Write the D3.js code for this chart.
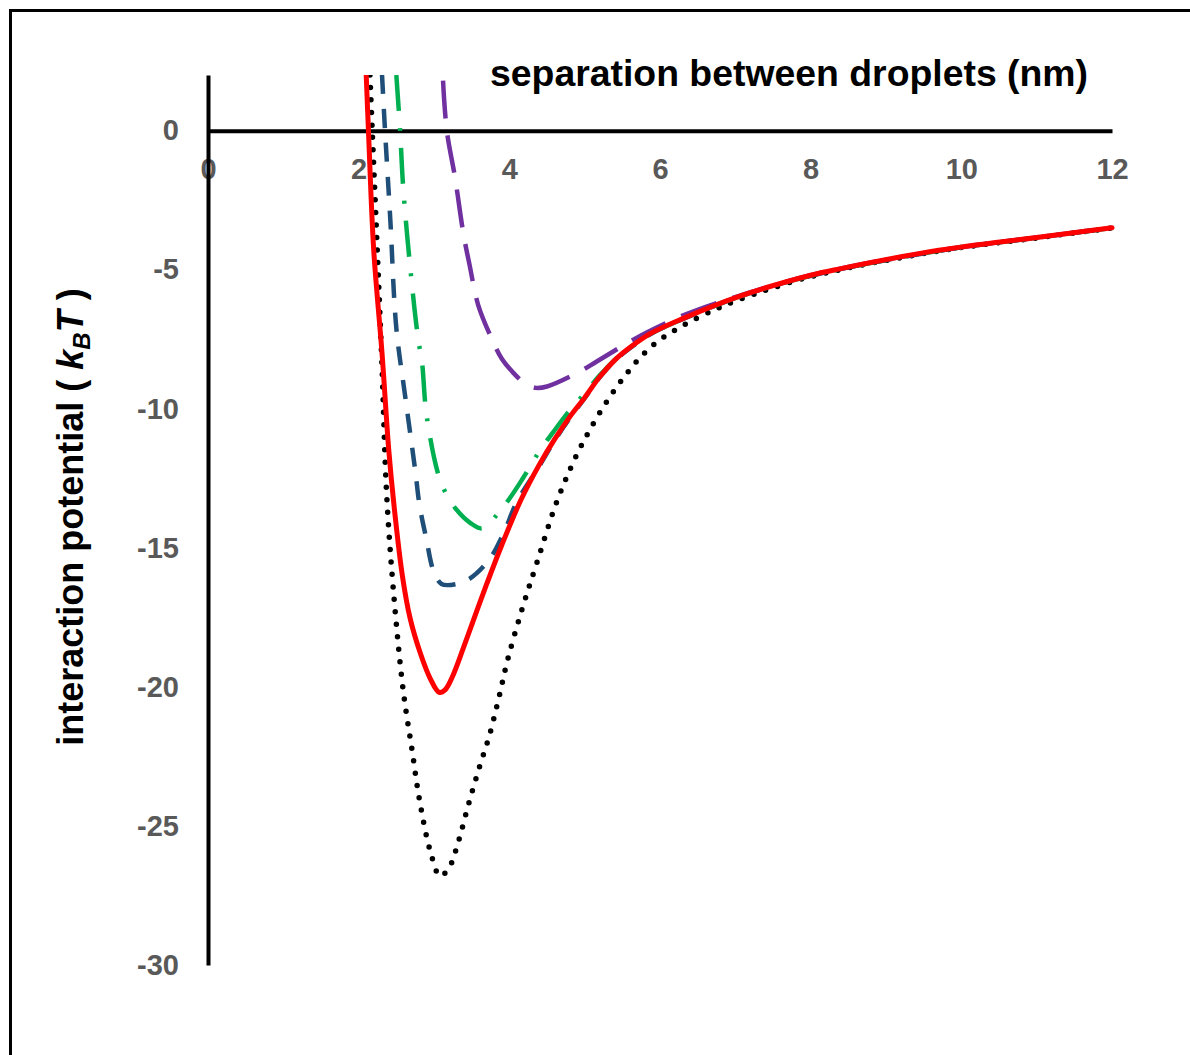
<!DOCTYPE html>
<html>
<head>
<meta charset="utf-8">
<script src="https://cdn.jsdelivr.net/npm/d3@7"></script>
<style>
  html, body { margin: 0; padding: 0; background: #fff; }
  svg { display: block; }
  text { font-family: "Liberation Sans", Arial, sans-serif; font-weight: bold; }
</style>
</head>
<body>
<svg id="chart" width="1190" height="1055"></svg>
<script>
// ---- Data ----
const xTicks = [0, 2, 4, 6, 8, 10, 12];
const yTicks = [0, -5, -10, -15, -20, -25, -30];
const xTitle = "separation between droplets (nm)";

// black dotted
const seriesBlack = [[2.15,2.0],[2.18,0],[2.25,-4.5],[2.31,-8.5],[2.37,-13.0],[2.46,-16.5],[2.59,-20.1],[2.71,-22.3],[2.81,-24.1],[2.95,-25.9],[3.08,-26.8],[3.2,-26.5],[3.32,-25.6],[3.45,-24.3],[3.59,-23.0],[3.74,-21.7],[3.86,-20.4],[3.98,-19.0],[4.17,-17.2],[4.37,-15.5],[4.65,-13.2],[4.98,-11.2],[5.43,-9.2],[5.87,-7.8],[6.31,-7.0],[6.76,-6.4],[7.06,-6.07],[8.0,-5.25],[9.7,-4.33],[11.0,-3.86],[12.0,-3.5]];
// red solid
const seriesRed = [[2.10,2.0],[2.13,0],[2.20,-4.3],[2.31,-8.0],[2.40,-11.5],[2.47,-13.5],[2.58,-16.0],[2.68,-17.5],[2.82,-18.8],[2.95,-19.7],[3.07,-20.2],[3.15,-20.1],[3.25,-19.6],[3.39,-18.6],[3.55,-17.4],[3.7,-16.3],[3.9,-14.9],[4.15,-13.3],[4.4,-12.0],[4.6,-11.1],[4.8,-10.3],[5.0,-9.6],[5.2,-8.85],[5.4,-8.25],[5.6,-7.8],[5.87,-7.3],[6.3,-6.76],[7.06,-5.95],[8.0,-5.2],[8.4,-4.96],[9.7,-4.3],[11.0,-3.84],[12.0,-3.49]];
// dark blue dashed
const seriesBlue = [[2.31,2.0],[2.35,0],[2.42,-3.2],[2.5,-7.1],[2.62,-9.6],[2.75,-12.2],[2.81,-13.5],[2.9,-14.7],[2.99,-15.8],[3.1,-16.3],[3.3,-16.3],[3.48,-16.1],[3.74,-15.4],[3.92,-14.5],[4.1,-13.35],[4.4,-12.05],[4.6,-11.15],[4.8,-10.35],[5.0,-9.62],[5.2,-8.87],[5.4,-8.27],[5.6,-7.82],[5.87,-7.32],[6.3,-6.78],[7.06,-5.96],[8.0,-5.22],[9.7,-4.32],[11.0,-3.85],[12.0,-3.5]];
// green dash-dot
const seriesGreen = [[2.5,2.0],[2.55,0],[2.59,-2.0],[2.68,-4.8],[2.79,-7.5],[2.84,-8.3],[2.9,-10.2],[3.05,-12.3],[3.15,-13.0],[3.29,-13.6],[3.48,-14.1],[3.64,-14.3],[3.84,-13.8],[4.01,-13.2],[4.18,-12.5],[4.43,-11.4],[4.58,-10.85],[4.76,-10.2],[5.0,-9.45],[5.2,-8.8],[5.4,-8.24],[5.6,-7.8],[5.87,-7.31],[6.3,-6.78],[7.06,-5.96],[8.0,-5.22],[9.7,-4.32],[11.0,-3.85],[12.0,-3.5]];
// purple long dash
const seriesPurple = [[3.12,1.8],[3.17,0],[3.28,-1.7],[3.39,-3.7],[3.47,-4.8],[3.59,-6.3],[3.77,-7.5],[3.9,-8.2],[4.05,-8.7],[4.21,-9.1],[4.35,-9.25],[4.5,-9.2],[4.91,-8.7],[5.16,-8.3],[5.56,-7.65],[5.83,-7.25],[6.24,-6.72],[6.49,-6.45],[7.06,-5.93],[8.0,-5.2],[9.7,-4.31],[11.0,-3.84],[12.0,-3.49]];

// ---- Chart ----
const svg = d3.select("#chart");

// outer frame (extends past the right and bottom edges)
svg.append("rect")
  .attr("x", 10.5).attr("y", 10.5)
  .attr("width", 1300).attr("height", 1200)
  .attr("fill", "none").attr("stroke", "#000").attr("stroke-width", 3);

const x = d3.scaleLinear().domain([0, 12]).range([208, 1112]);
const y = d3.scaleLinear().domain([-30, 2]).range([965, 75]);

svg.append("defs").append("clipPath").attr("id", "plotclip")
  .append("rect").attr("x", 208).attr("y", 75).attr("width", 910).attr("height", 890);

// axes
const xAxis = svg.append("g")
  .attr("transform", `translate(0,${y(0)})`)
  .call(d3.axisBottom(x).tickValues(xTicks).tickFormat(d => String(d)).tickSize(0).tickPadding(28));
const yAxis = svg.append("g")
  .attr("transform", `translate(${x(0)},0)`)
  .call(d3.axisLeft(y).tickValues(yTicks).tickFormat(d => String(d)).tickSize(0).tickPadding(29));

[xAxis, yAxis].forEach(g => {
  g.select(".domain").attr("stroke", "#000").attr("stroke-width", 4);
  g.selectAll("text").attr("fill", "#595959").style("font-size", "29px")
    .style("font-family", "'Liberation Sans', Arial, sans-serif").style("font-weight", "bold");
});

// lines
const line = d3.line().x(d => x(d[0])).y(d => y(d[1])).curve(d3.curveCatmullRom.alpha(0.5));
const plot = svg.append("g").attr("clip-path", "url(#plotclip)");

const styles = [
  { data: seriesBlack,  color: "#000000", width: 5.5, dash: "0 12.5", cap: "round" },
  { data: seriesPurple, color: "#7030a0", width: 4.5, dash: "38 17", cap: "butt" },
  { data: seriesGreen,  color: "#00b050", width: 4.5, dash: "36 17 3 17", cap: "butt" },
  { data: seriesBlue,   color: "#1f4e79", width: 4.5, dash: "19 15", cap: "butt" },
  { data: seriesRed,    color: "#ff0000", width: 5,   dash: null, cap: "round" }
];
styles.forEach(s => {
  plot.append("path")
    .datum(s.data)
    .attr("d", line)
    .attr("fill", "none")
    .attr("stroke", s.color)
    .attr("stroke-width", s.width)
    .attr("stroke-linecap", s.cap)
    .attr("stroke-linejoin", "round")
    .attr("stroke-dasharray", s.dash);
});

// x title
svg.append("text")
  .attr("x", 490).attr("y", 86)
  .attr("textLength", 598).attr("lengthAdjust", "spacingAndGlyphs")
  .style("font-size", "36px").attr("fill", "#000")
  .text(xTitle);

// y title
const yt = svg.append("text")
  .attr("transform", "translate(83,517) rotate(-90)")
  .attr("text-anchor", "middle")
  .style("font-size", "36px").attr("fill", "#000");
yt.append("tspan").text("interaction potential ( ");
yt.append("tspan").style("font-style", "italic").text("k");
yt.append("tspan").style("font-style", "italic").style("font-size", "24px").attr("dy", "7").text("B");
yt.append("tspan").style("font-style", "italic").attr("dy", "-7").text("T");
yt.append("tspan").text(" )");
</script>
</body>
</html>
